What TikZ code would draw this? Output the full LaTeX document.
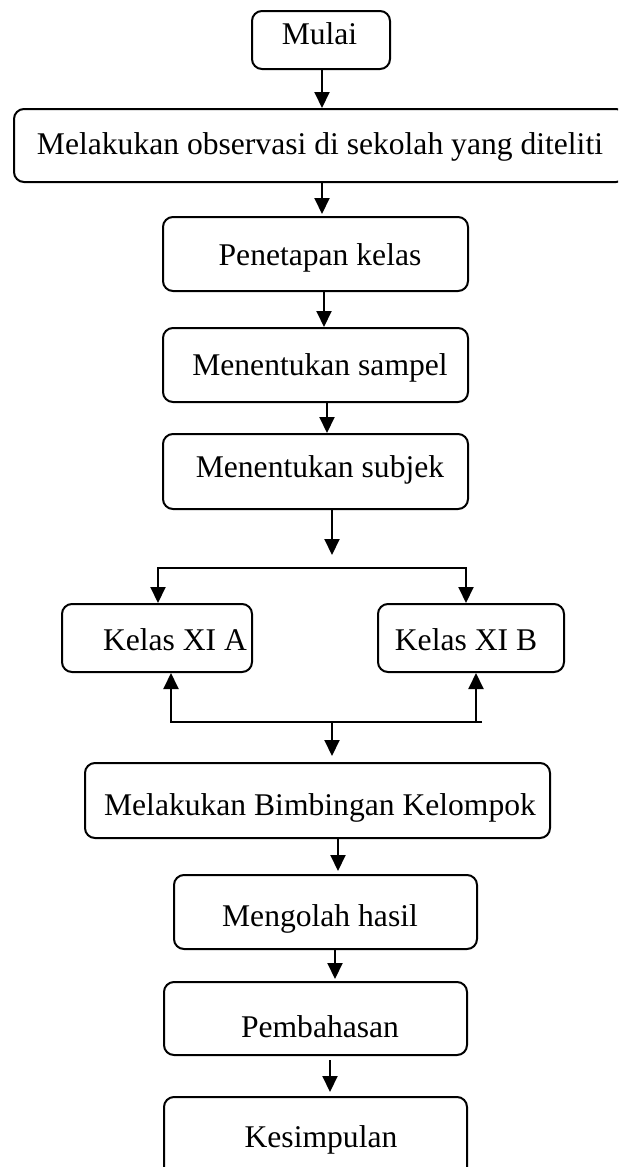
\documentclass[tikz,border=0pt]{standalone}
\usepackage{fontspec}
\setmainfont{Liberation Serif}
\usetikzlibrary{arrows.meta}
\begin{document}
\begin{tikzpicture}[x=0.5pt,y=-0.5pt,
  box/.style={draw, line width=1pt, rounded corners=5pt, inner sep=0pt},
  txt/.style={anchor=base, inner sep=0pt, font=\fontsize{15.8}{19}\selectfont},
  arr/.style={line width=1pt, -{Triangle[length=8pt,width=7.5pt]}},
  ln/.style={line width=1pt}]
\useasboundingbox (0,0) rectangle (618,1167);
\clip (0,0) rectangle (618,1167);
% boxes
\node[box, minimum width=69pt,   minimum height=29pt]   (mulai) at (321,40) {};
\node[box, minimum width=306pt,  minimum height=36.5pt] (obs)   at (320,145.5) {};
\node[box, minimum width=152.5pt,minimum height=37pt]   (pen)   at (315.5,254) {};
\node[box, minimum width=152.5pt,minimum height=37pt]   (sam)   at (315.5,365) {};
\node[box, minimum width=152.5pt,minimum height=37.5pt] (sub)   at (315.5,471.5) {};
\node[box, minimum width=95pt,   minimum height=34pt]   (ka)    at (157,638) {};
\node[box, minimum width=93pt,   minimum height=34pt]   (kb)    at (471,638) {};
\node[box, minimum width=232.5pt,minimum height=37.5pt] (bim)   at (317.5,800.5) {};
\node[box, minimum width=151.5pt,minimum height=37pt]   (olah)  at (325.5,912) {};
\node[box, minimum width=151.5pt,minimum height=36.5pt] (bah)   at (315.5,1018.5) {};
\node[box, minimum width=151.5pt,minimum height=45pt]   (kes)   at (315.5,1142) {};
% texts
\node[txt] (tmulai) at (319.5,44)  {Mulai};
\node[txt] (tobs)   at (320,154)   {Melakukan observasi di sekolah yang diteliti};
\node[txt] (tpen)   at (320,265)   {Penetapan kelas};
\node[txt] (tsam)   at (320,375)   {Menentukan sampel};
\node[txt] (tsub)   at (320,477)   {Menentukan subjek};
\node[txt] (tka)    at (175,650)   {Kelas XI A};
\node[txt] (tkb)    at (466,650)   {Kelas XI B};
\node[txt] (tbim)   at (320,815)   {Melakukan Bimbingan Kelompok};
\node[txt] (tolah)  at (320,926)   {Mengolah hasil};
\node[txt] (tbah)   at (320,1037)  {Pembahasan};
\node[txt] (tkes)   at (321,1147)  {Kesimpulan};
% coordinates for the branching
\coordinate (subend) at (332,555);
\coordinate (bl) at (158,568);
\coordinate (br) at (466,568);
\coordinate (ul) at (171,722);
\coordinate (ur) at (476,723);
\coordinate (urx) at (482,722);
\coordinate (um) at (332,722);
% connectors
\draw[arr] ([xshift=0.5pt]mulai.south) -- ([xshift=0.5pt]mulai.south |- obs.north);
\draw[arr, shorten >=1pt] ([xshift=1pt]obs.south) -- ([xshift=1pt]obs.south |- pen.north);
\draw[arr] ([xshift=4.25pt]pen.south) -- ([xshift=4.25pt]pen.south |- sam.north);
\draw[arr] ([xshift=5.75pt]sam.south) -- ([xshift=5.75pt]sam.south |- sub.north);
\draw[arr] ([xshift=8.25pt]sub.south) -- (subend);
\draw[arr] (br) -- (bl) -- (bl |- ka.north);
\draw[arr] (bl) -- (br) -- (br |- kb.north);
\draw[arr] (urx) -- (ul) -- (ul |- ka.south);
\draw[arr] (ur) -- (ur |- kb.south);
\draw[arr, shorten >=3pt] (um) -- (um |- bim.north);
\draw[arr, shorten >=1.5pt] ([xshift=10.25pt]bim.south) -- ([xshift=10.25pt]bim.south |- olah.north);
\draw[arr, shorten >=1pt] ([xshift=4.75pt]olah.south) -- ([xshift=4.75pt]olah.south |- bah.north);
\draw[arr, shorten <=2pt, shorten >=2pt] ([xshift=7.25pt]bah.south) -- ([xshift=7.25pt]bah.south |- kes.north);
\end{tikzpicture}
\end{document}
